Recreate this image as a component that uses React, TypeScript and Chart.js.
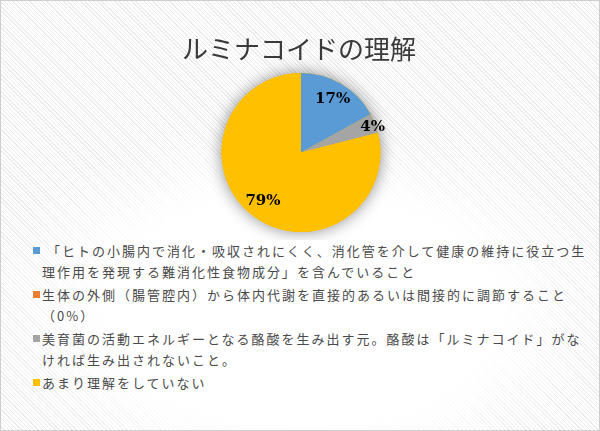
import React, { useEffect, useRef } from "react";
import { Chart, registerables } from "chart.js";

Chart.register(...registerables);

const TITLE = "ルミナコイドの理解";
const CATEGORIES = [
  " 「ヒトの小腸内で消化・吸収されにくく、消化管を介して健康の維持に役立つ生\n理作用を発現する難消化性食物成分」を含んでいること",
  "生体の外側（腸管腔内）から体内代謝を直接的あるいは間接的に調節すること\n（0%）",
  "美育菌の活動エネルギーとなる酪酸を生み出す元。酪酸は「ルミナコイド」がな\nければ生み出されないこと。",
  "あまり理解をしていない",
];
const VALUES = [17, 0, 4, 79];
const COLORS = ["#5B9BD5", "#ED7D31", "#A5A5A5", "#FFC000"];

const shadowPlugin = {
  id: "pieShadow",
  beforeDatasetsDraw(chart: any) {
    const meta = chart.getDatasetMeta(0);
    const arc = meta.data[0];
    if (!arc) return;
    const ctx = chart.ctx;
    ctx.save();
    ctx.shadowColor = "rgba(0,0,0,0.45)";
    ctx.shadowBlur = 16;
    ctx.beginPath();
    ctx.arc(arc.x, arc.y, arc.outerRadius, 0, Math.PI * 2);
    ctx.fillStyle = "#FFC000";
    ctx.fill();
    ctx.restore();
  },
};

const labelPlugin = {
  id: "pieLabels",
  afterDatasetsDraw(chart: any) {
    const meta = chart.getDatasetMeta(0);
    const data = chart.data.datasets[0].data as number[];
    const total = data.reduce((a, b) => a + b, 0);
    const ctx = chart.ctx;
    ctx.save();
    ctx.font = "bold 15px 'DejaVu Serif'";
    ctx.fillStyle = "#000";
    ctx.textAlign = "center";
    ctx.textBaseline = "middle";
    meta.data.forEach((arc: any, i: number) => {
      const v = data[i];
      if (!v) return;
      const pct = v / total;
      const mid = (arc.startAngle + arc.endAngle) / 2;
      const r = pct < 0.1 ? arc.outerRadius * 0.97 : arc.outerRadius * 0.78;
      const x = arc.x + Math.cos(mid) * r;
      const y = arc.y + Math.sin(mid) * r + (pct < 0.1 ? 3 : 0);
      ctx.fillText(v + "%", x, y);
    });
    ctx.restore();
  },
};

export default function App() {
  const ref = useRef<HTMLCanvasElement>(null);
  useEffect(() => {
    if (!ref.current) return;
    const chart = new Chart(ref.current, {
      type: "pie",
      data: {
        labels: CATEGORIES,
        datasets: [
          {
            data: VALUES,
            backgroundColor: COLORS,
            borderWidth: 0,
          },
        ],
      },
      options: {
        responsive: false,
        animation: false,
        layout: { padding: { top: 73, bottom: 8, left: 221, right: 219 } },
        plugins: {
          legend: { display: false },
          tooltip: { enabled: false },
          title: { display: false },
        },
      },
      plugins: [shadowPlugin, labelPlugin],
    });
    return () => chart.destroy();
  }, []);

  return (
    <div
      style={{
        position: "fixed",
        left: 0,
        top: 0,
        width: 600,
        height: 431,
        boxSizing: "border-box",
        border: "1px solid #cfcfcf",
        background:
          "repeating-linear-gradient(45deg, #ffffff 0px, #ffffff 2px, #ececec 2px, #ececec 3px)",
        overflow: "hidden",
      }}
    >
      <div
        style={{
          position: "absolute",
          left: 0,
          top: 0,
          width: 600,
          height: 431,
          background:
            "radial-gradient(ellipse 320px 190px at 300px 310px, rgba(255,255,255,1) 60%, rgba(255,255,255,0) 100%)",
        }}
      />
      <canvas
        ref={ref}
        width={600}
        height={240}
        style={{ position: "absolute", left: -1, top: -1, width: 600, height: 240 }}
      />
      <div
        style={{
          position: "absolute",
          left: -1,
          top: 30,
          width: 598,
          textAlign: "center",
          fontFamily: "'Noto Sans CJK JP'",
          fontSize: 26,
          lineHeight: "34px",
          color: "#3a3a3a",
          whiteSpace: "nowrap",
        }}
      >
        {TITLE}
      </div>
      <div
        style={{
          position: "absolute",
          left: -1,
          top: 239,
          width: 600,
          fontFamily: "'Noto Sans CJK JP'",
          fontSize: 13,
          letterSpacing: "2px",
          lineHeight: "21px",
          color: "#4a4a4a",
        }}
      >
        {CATEGORIES.map((c, i) => (
          <div
            key={i}
            style={{
              position: "relative",
              paddingLeft: 42,
              marginTop: i === 0 ? 0 : 2,
              whiteSpace: "pre",
            }}
          >
            <span
              style={{
                position: "absolute",
                left: 33,
                top: 7,
                width: 7,
                height: 7,
                background: COLORS[i],
              }}
            />
            {c}
          </div>
        ))}
      </div>
    </div>
  );
}
